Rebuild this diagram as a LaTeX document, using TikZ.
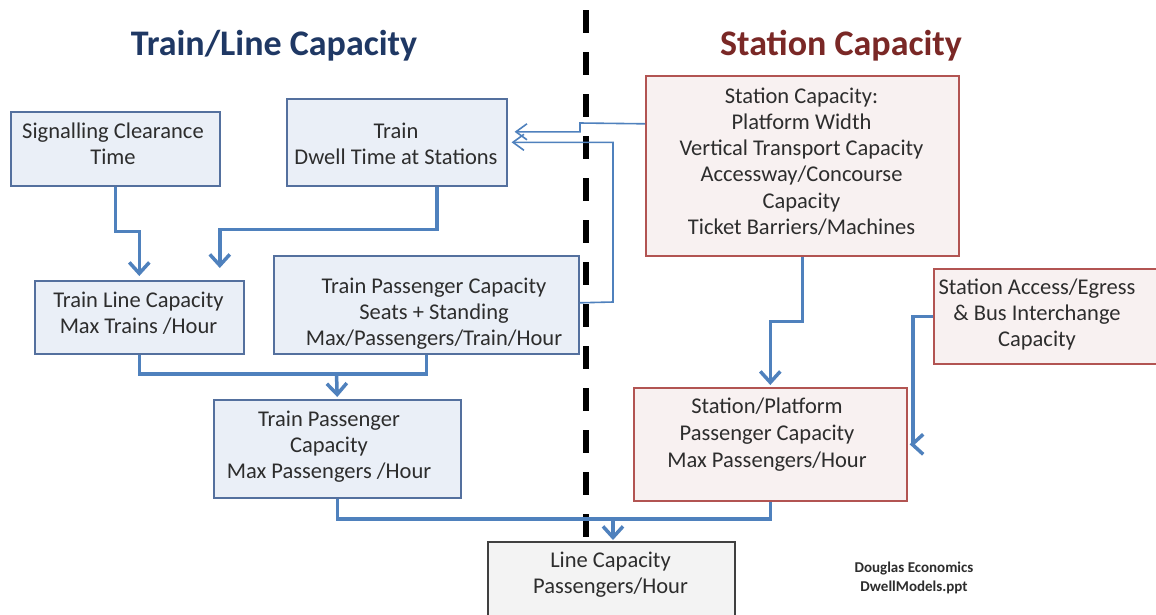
\documentclass[tikz,border=0pt]{standalone}
\usepackage{fontspec}
\setmainfont{Carlito}
\usetikzlibrary{arrows.meta}
\definecolor{boxblue}{RGB}{234,239,247}
\definecolor{edgeblue}{RGB}{84,112,158}
\definecolor{boxred}{RGB}{248,241,241}
\definecolor{edgered}{RGB}{178,84,82}
\definecolor{boxgrey}{RGB}{243,243,243}
\definecolor{edgegrey}{RGB}{64,64,64}
\definecolor{wire}{RGB}{79,129,189}
\definecolor{titleblue}{RGB}{31,56,100}
\definecolor{titlered}{RGB}{122,40,38}
\definecolor{ink}{RGB}{45,45,45}
\tikzset{
  cbox/.style={rectangle, line width=1.6pt, anchor=north west, inner sep=0pt},
  bluebox/.style={cbox, draw=edgeblue, fill=boxblue},
  redbox/.style={cbox, draw=edgered, fill=boxred},
  greybox/.style={cbox, draw=edgegrey, fill=boxgrey},
  txt/.style={align=center, inner sep=0pt, text=ink, font=\fontsize{22.5}{26}\selectfont},
  heading/.style={inner sep=0pt, font=\fontsize{36}{40}\selectfont\bfseries},
  flow/.style={draw=wire, line width=3.5pt, line join=miter},
  flowarrow/.style={flow, -{Straight Barb[length=11pt, width=20pt, line width=3.5pt]}},
  feedback/.style={draw=wire, line width=1.6pt, -{Straight Barb[length=11pt, width=16pt, line width=1.6pt]}}
}
\begin{document}
\begin{tikzpicture}[x=1pt, y=-1pt]
\useasboundingbox (0,0) rectangle (1156,614);
\fill[white] (0,0) rectangle (1156,614);

% headings
\node[heading, text=titleblue] (h1) at (274,46) {Train/Line Capacity};
\node[heading, text=titlered] (h2) at (841,46) {Station Capacity};

% divider between train/line side and station side
\draw[line width=5.5pt, dash pattern=on 23pt off 19pt] (586,10) -- (586,640);

% train / line boxes
\node[bluebox, minimum width=209pt, minimum height=74pt] (sig) at (10,111) {};
\node[txt] (sig-t) at (113,144) {Signalling Clearance\\Time};
\node[bluebox, minimum width=220pt, minimum height=87pt] (dwell) at (286,98) {};
\node[txt] (dwell-t) at (396,144) {Train\\Dwell Time at Stations};
\node[bluebox, minimum width=209pt, minimum height=73pt] (tlc) at (34,280) {};
\node[txt] (tlc-t) at (138.5,313) {Train Line Capacity\\Max Trains /Hour};
\node[bluebox, minimum width=305pt, minimum height=98pt] (seats) at (273,255) {};
\node[txt] (seats-t) at (434,314) {Train Passenger Capacity\\Seats + Standing\\Max/Passengers/Train/Hour};
\node[bluebox, minimum width=247pt, minimum height=98pt] (tpm) at (213,399) {};
\node[txt] (tpm-t) at (329,447) {Train Passenger\\Capacity\\Max Passengers /Hour};

% station boxes
\node[redbox, minimum width=313pt, minimum height=180pt] (sc) at (645,75) {};
\node[txt, font=\fontsize{22.5}{26.2}\selectfont] (sc-t) at (801.5,161.5) {Station Capacity:\\Platform Width\\Vertical Transport Capacity\\Accessway/Concourse\\Capacity\\Ticket Barriers/Machines};
\node[redbox, minimum width=230pt, minimum height=95pt] (acc) at (933,268) {};
\node[txt] (acc-t) at (1037,314.5) {Station Access/Egress\\\& Bus Interchange\\Capacity};
\node[redbox, minimum width=273pt, minimum height=113pt] (sp) at (633,387) {};
\node[txt, font=\fontsize{22.5}{27}\selectfont] (sp-t) at (767,435) {Station/Platform\\Passenger Capacity\\Max Passengers/Hour};

% overall result
\node[greybox, minimum width=247pt, minimum height=100pt] (lc) at (487,541) {};
\node[txt] (lc-t) at (610.5,575) {Line Capacity\\Passengers/Hour};

% source note
\node[align=center, inner sep=0pt, text=ink, font=\fontsize{15}{19}\selectfont\bfseries] (note) at (914,578) {Douglas Economics\\DwellModels.ppt};

% junction points
\coordinate (j1) at (336.5,374);
\coordinate (j2) at (613,519);

% main flows
\draw[flowarrow, shorten >=4pt] (sig.south) -- ++(0,45) -| (tlc.north);
\draw[flowarrow, shorten >=12pt] ([xshift=40pt]dwell.south) -- ++(0,43) -| ([xshift=80.5pt]tlc.north);
\draw[flow] (tlc.south) |- (j1);
\draw[flow] (seats.south) |- (j1);
\draw[flowarrow, shorten >=2pt] (j1) -- (tpm.north);
\draw[flow] (tpm.south) |- (j2);
\draw[flow] (sp.south) |- (j2);
\draw[flowarrow, shorten >=1pt] (j2) -- (j2 |- lc.north);
\draw[flowarrow, shorten >=2pt] (sc.south) -- ++(0,65) -| (sp.north);
\draw[flowarrow, shorten >=2pt] (acc.west) -- ++(-20,0) |- (sp.east);

% feedback into dwell time
\draw[feedback] ([yshift=42pt]sc.west) -- (580,123) |- ([yshift=10.5pt, xshift=7pt]dwell.east);
\draw[feedback] ([yshift=2pt]seats.east) -- (613,302) |- ([xshift=4pt]dwell.east);
\end{tikzpicture}
\end{document}
